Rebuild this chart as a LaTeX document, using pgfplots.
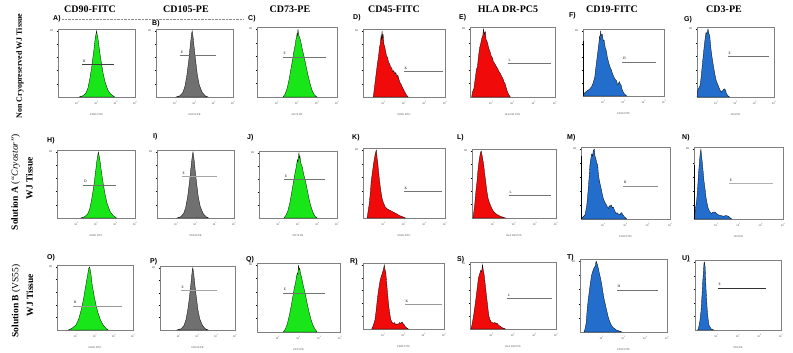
\documentclass[border=0pt]{standalone}
\usepackage{pgfplots}
\pgfplotsset{compat=1.18}
\usepackage{fontspec}
\setmainfont{Liberation Serif}
\newfontfamily\labfont{Liberation Sans}
\definecolor{fgreen}{RGB}{25,230,25}
\definecolor{fgray}{RGB}{112,112,112}
\definecolor{fred}{RGB}{240,10,10}
\definecolor{fblue}{RGB}{35,110,205}
\newcommand{\tinyf}{\labfont\fontsize{2.6}{3}\selectfont}
\pgfplotsset{
  fc/.style={scale only axis, anchor=north west, xmin=0, xmax=4, ymin=0, ymax=1.03,
    axis line style={black!50, line width=0.4pt},
    tick pos=left,
    tick align=outside, tick style={black, line width=0.25pt},
    major tick length=1.4pt, minor tick length=0.9pt,
    xtick={1,2,3,4}, xticklabels={10\textsuperscript{1},10\textsuperscript{2},10\textsuperscript{3},10\textsuperscript{4}},
    minor xtick={0.301,0.477,0.602,0.699,0.778,0.845,0.903,0.954,
      1.301,1.477,1.602,1.699,1.778,1.845,1.903,1.954,
      2.301,2.477,2.602,2.699,2.778,2.845,2.903,2.954,
      3.301,3.477,3.602,3.699,3.778,3.845,3.903,3.954},
    ytick={0.2,0.4,0.6,0.8,1}, yticklabels={,,,,88},
    tick label style={font=\tinyf, text=black!70}, label style={font=\tinyf, text=black!70},
    xticklabel style={yshift=0.6pt}, xlabel style={yshift=-2pt},
    clip=false},
  hist/.style={draw=black, line width=0.3pt, fill=#1},
}
\newcommand{\gate}[5][black!55]{\addplot[#1, line width=0.5pt] coordinates {(#2,#4) (#3,#4)};
  \node[font=\fontsize{3.5}{4}\selectfont, anchor=south west, inner sep=0.5pt, yshift=1.5pt] at (axis cs:#2,#4) {#5};}
\newcommand{\spike}[1]{\addplot[black, line width=0.6pt] coordinates {(0.02,0) (0.02,#1)};}
\newcommand{\plab}[3]{\node[font=\labfont\bfseries\fontsize{7}{8}\selectfont, anchor=west, inner sep=0pt] at (#1pt,-#2pt) {#3};}
\newcommand{\ctitle}[2]{\node[font=\bfseries\fontsize{10}{11}\selectfont, anchor=base] at (#1pt,-13pt) {#2};}
\begin{document}
\begin{tikzpicture}
\path[use as bounding box] (0,0) rectangle (793pt,-353pt);
% column titles
\ctitle{90}{CD90-FITC}
\ctitle{186}{CD105-PE}
\ctitle{290}{CD73-PE}
\ctitle{394}{CD45-FITC}
\ctitle{508}{HLA DR-PC5}
\ctitle{612}{CD19-FITC}
\ctitle{724}{CD3-PE}
% row labels
\node[rotate=90, font=\bfseries\fontsize{8}{9}\selectfont] at (20pt,-66pt) {Non Cryopreserved WJ Tissue};
\node[rotate=90, font=\fontsize{9.5}{11}\selectfont] at (15.5pt,-182pt) {\textbf{Solution A} (\textit{“Cryostor”})};
\node[rotate=90, font=\bfseries\fontsize{9.5}{11}\selectfont] at (29.5pt,-178pt) {WJ Tissue};
\node[rotate=90, font=\fontsize{9.5}{11}\selectfont] at (16pt,-301pt) {\textbf{Solution B} (VS55)};
\node[rotate=90, font=\bfseries\fontsize{9.5}{11}\selectfont] at (30pt,-295pt) {WJ Tissue};
\draw[black!45, densely dotted, line width=0.4pt] (62pt,-19pt) -- (243pt,-19pt);
% panel labels
\plab{53}{19}{A)} \plab{152}{24}{B)} \plab{248}{19}{C)} \plab{353}{18}{D)} \plab{459}{18}{E)} \plab{569}{16}{F)} \plab{684}{20}{G)}
\plab{47}{141}{H)} \plab{153}{137}{I)} \plab{247}{138}{J)} \plab{352}{138}{K)} \plab{457}{138}{L)} \plab{567}{138}{M)} \plab{682}{138}{N)}
\plab{47}{258}{O)} \plab{150}{262}{P)} \plab{246}{260}{Q)} \plab{350}{262}{R)} \plab{457}{260}{S)} \plab{567}{258}{T)} \plab{682}{259}{U)}

% ---------------- Row 1
\begin{axis}[fc, at={(58pt,-29pt)}, width=77pt, height=68pt, xlabel={CD90 FITC}]
\addplot[hist=fgreen] coordinates {(1.1,0) (1.3,0.02) (1.45,0.06) (1.55,0.13) (1.65,0.27) (1.75,0.45) (1.85,0.68) (1.93,0.88) (2.0,1.0) (2.07,0.9) (2.15,0.72) (2.25,0.52) (2.35,0.35) (2.45,0.22) (2.6,0.1) (2.75,0.04) (2.95,0)} \closedcycle;
\gate[black!75]{1.25}{2.9}{0.49}{D}
\end{axis}
\begin{axis}[fc, at={(156pt,-29pt)}, width=77pt, height=68pt, xlabel={CD105 PE}]
\addplot[hist=fgray] coordinates {(1.05,0) (1.25,0.02) (1.4,0.07) (1.5,0.16) (1.6,0.32) (1.7,0.55) (1.78,0.78) (1.85,0.96) (1.88,1.0) (1.93,0.9) (2.0,0.7) (2.08,0.5) (2.15,0.33) (2.25,0.18) (2.4,0.07) (2.55,0.02) (2.7,0)} \closedcycle;
\gate{1.25}{3.1}{0.63}{E}
\end{axis}
\begin{axis}[fc, at={(257pt,-27pt)}, width=80pt, height=70pt, xlabel={CD73 PE}]
\addplot[hist=fgreen] coordinates {(1.3,0) (1.4,0.04) (1.5,0.12) (1.6,0.25) (1.7,0.42) (1.78,0.55) (1.85,0.68) (1.9,0.75) (1.95,0.85) (1.98,0.88) (2.0,0.93) (2.02,0.9) (2.05,1.0) (2.07,0.94) (2.1,0.9) (2.15,0.86) (2.2,0.8) (2.28,0.68) (2.35,0.6) (2.45,0.46) (2.55,0.32) (2.65,0.2) (2.75,0.1) (2.85,0.04) (2.95,0.01) (3.0,0)} \closedcycle;
\gate{1.3}{3.45}{0.59}{E}
\end{axis}
\begin{axis}[fc, at={(363pt,-29pt)}, width=82pt, height=68pt, xlabel={CD45 FITC}]
\addplot[hist=fred] coordinates {(0.5,0) (0.55,0.12) (0.62,0.3) (0.7,0.5) (0.76,0.62) (0.8,0.75) (0.84,0.8) (0.88,0.92) (0.9,0.86) (0.93,1.0) (0.96,0.88) (0.98,0.95) (1.02,0.8) (1.06,0.76) (1.1,0.7) (1.15,0.62) (1.2,0.6) (1.25,0.52) (1.3,0.5) (1.35,0.45) (1.4,0.44) (1.45,0.38) (1.5,0.4) (1.55,0.35) (1.6,0.37) (1.65,0.31) (1.7,0.33) (1.75,0.27) (1.8,0.22) (1.85,0.2) (1.9,0.16) (1.95,0.13) (2.0,0.1) (2.05,0.07) (2.1,0.04) (2.15,0.02) (2.2,0)} \closedcycle;
\gate{2.0}{3.9}{0.39}{K}
\end{axis}
\begin{axis}[fc, at={(470pt,-27pt)}, width=85pt, height=70pt, xlabel={HLA DR PC5}]
\addplot[hist=fred] coordinates {(0.08,0) (0.12,0.08) (0.18,0.12) (0.25,0.28) (0.3,0.4) (0.35,0.45) (0.4,0.6) (0.45,0.72) (0.5,0.78) (0.55,0.86) (0.6,0.9) (0.64,1.0) (0.68,0.92) (0.72,0.96) (0.76,0.84) (0.8,0.82) (0.85,0.76) (0.9,0.7) (0.95,0.66) (1.0,0.6) (1.05,0.58) (1.1,0.52) (1.15,0.5) (1.2,0.47) (1.25,0.44) (1.3,0.42) (1.35,0.38) (1.4,0.36) (1.45,0.33) (1.5,0.3) (1.55,0.27) (1.6,0.22) (1.65,0.2) (1.7,0.14) (1.75,0.09) (1.8,0.05) (1.85,0.02) (1.9,0)} \closedcycle;
\gate{1.79}{3.8}{0.49}{L}
\end{axis}
\begin{axis}[fc, at={(583pt,-29pt)}, width=81pt, height=67pt, xlabel={CD19 FITC}]
\addplot[hist=fblue] coordinates {(0,0) (0.05,0.04) (0.2,0.08) (0.3,0.1) (0.42,0.14) (0.5,0.2) (0.58,0.29) (0.62,0.4) (0.66,0.5) (0.7,0.6) (0.74,0.7) (0.78,0.8) (0.82,0.92) (0.85,0.88) (0.87,1.0) (0.9,0.93) (0.95,0.95) (1.0,0.85) (1.04,0.86) (1.1,0.74) (1.15,0.7) (1.2,0.6) (1.28,0.5) (1.34,0.44) (1.4,0.4) (1.47,0.33) (1.53,0.29) (1.6,0.25) (1.64,0.24) (1.72,0.17) (1.76,0.2) (1.8,0.22) (1.84,0.18) (1.88,0.17) (1.93,0.1) (1.97,0.07) (2.05,0.03) (2.16,0)} \closedcycle;
\spike{0.85}
\gate{1.95}{3.6}{0.52}{D}
\end{axis}
\begin{axis}[fc, at={(697pt,-27pt)}, width=77pt, height=70pt, xlabel={CD3 PE}]
\addplot[hist=fblue] coordinates {(0,0) (0.04,0.1) (0.16,0.17) (0.22,0.3) (0.26,0.43) (0.32,0.6) (0.38,0.76) (0.43,0.88) (0.47,0.95) (0.52,0.93) (0.57,1.0) (0.62,0.93) (0.66,0.9) (0.7,0.78) (0.74,0.67) (0.8,0.55) (0.87,0.43) (0.93,0.33) (1.0,0.24) (1.07,0.19) (1.14,0.14) (1.2,0.1) (1.26,0.07) (1.32,0.09) (1.38,0.11) (1.43,0.12) (1.48,0.1) (1.53,0.05) (1.6,0.02) (1.69,0)} \closedcycle;
\gate{1.6}{3.75}{0.6}{E}
\end{axis}

% ---------------- Row 2
\begin{axis}[fc, at={(57pt,-150pt)}, width=78pt, height=68pt, xlabel={CD90 FITC}]
\addplot[hist=fgreen] coordinates {(1.22,0) (1.42,0.02) (1.57,0.06) (1.67,0.13) (1.77,0.27) (1.87,0.45) (1.97,0.68) (2.05,0.88) (2.12,1.0) (2.19,0.9) (2.27,0.72) (2.37,0.52) (2.47,0.35) (2.57,0.22) (2.72,0.1) (2.87,0.04) (3.05,0)} \closedcycle;
\gate{1.35}{3.0}{0.5}{D}
\end{axis}
\begin{axis}[fc, at={(157pt,-150pt)}, width=77pt, height=68pt, xlabel={CD105 PE}]
\addplot[hist=fgray] coordinates {(1.04,0) (1.24,0.02) (1.39,0.07) (1.49,0.16) (1.59,0.32) (1.69,0.55) (1.77,0.78) (1.84,0.96) (1.87,1.0) (1.92,0.9) (1.99,0.7) (2.07,0.5) (2.14,0.33) (2.24,0.18) (2.39,0.07) (2.54,0.02) (2.68,0)} \closedcycle;
\gate[black!35]{1.3}{3.1}{0.63}{E}
\end{axis}
\begin{axis}[fc, at={(259pt,-151pt)}, width=78pt, height=67pt, xlabel={CD73 PE}]
\addplot[hist=fgreen] coordinates {(1.28,0) (1.38,0.04) (1.48,0.11) (1.58,0.23) (1.68,0.4) (1.76,0.54) (1.83,0.66) (1.88,0.74) (1.93,0.82) (1.97,0.9) (2.0,0.86) (2.03,0.97) (2.05,1.0) (2.07,0.92) (2.1,0.95) (2.15,0.84) (2.22,0.78) (2.3,0.66) (2.38,0.57) (2.47,0.44) (2.56,0.3) (2.66,0.18) (2.76,0.09) (2.86,0.03) (2.97,0)} \closedcycle;
\gate{1.3}{3.4}{0.59}{E}
\end{axis}
\begin{axis}[fc, at={(363pt,-148pt)}, width=82pt, height=70pt, xlabel={CD45 FITC}]
\addplot[hist=fred] coordinates {(0.2,0) (0.3,0.2) (0.36,0.38) (0.4,0.54) (0.47,0.7) (0.53,0.83) (0.6,0.95) (0.65,1.0) (0.69,0.88) (0.73,0.78) (0.77,0.65) (0.81,0.54) (0.87,0.4) (0.93,0.29) (1.0,0.22) (1.09,0.16) (1.2,0.13) (1.34,0.11) (1.45,0.09) (1.59,0.07) (1.7,0.05) (1.83,0.03) (2.0,0.01) (2.07,0)} \closedcycle;
\gate{2.0}{3.86}{0.39}{K}
\end{axis}
\begin{axis}[fc, at={(472pt,-149pt)}, width=84pt, height=69pt, xlabel={HLA DR PC5}]
\addplot[hist=fred] coordinates {(0.05,0) (0.13,0.2) (0.18,0.38) (0.24,0.55) (0.28,0.7) (0.33,0.84) (0.37,0.92) (0.41,0.98) (0.44,1.0) (0.46,0.97) (0.5,0.9) (0.56,0.79) (0.6,0.67) (0.65,0.55) (0.7,0.42) (0.76,0.3) (0.84,0.22) (0.92,0.16) (1.0,0.11) (1.08,0.08) (1.2,0.05) (1.32,0.03) (1.48,0.01) (1.6,0)} \closedcycle;
\gate{1.76}{3.76}{0.34}{L}
\end{axis}
\begin{axis}[fc, at={(581pt,-147pt)}, width=89pt, height=72pt, xlabel={CD19 FITC}]
\addplot[hist=fblue] coordinates {(0,0) (0.03,0.01) (0.18,0.06) (0.25,0.17) (0.29,0.3) (0.33,0.45) (0.37,0.62) (0.4,0.77) (0.44,0.86) (0.48,0.93) (0.52,0.9) (0.55,0.98) (0.6,1.0) (0.63,0.9) (0.67,0.86) (0.71,0.8) (0.75,0.77) (0.78,0.65) (0.82,0.56) (0.88,0.47) (0.93,0.4) (0.98,0.32) (1.03,0.27) (1.1,0.22) (1.15,0.2) (1.2,0.16) (1.23,0.15) (1.27,0.19) (1.3,0.18) (1.36,0.2) (1.41,0.16) (1.45,0.17) (1.5,0.13) (1.57,0.08) (1.62,0.09) (1.68,0.07) (1.75,0.06) (1.8,0.09) (1.83,0.09) (1.88,0.06) (1.93,0.04) (2.05,0)} \closedcycle;
\spike{0.9}
\gate[black!45]{1.89}{3.46}{0.47}{D}
\end{axis}
\begin{axis}[fc, at={(694pt,-147pt)}, width=89pt, height=72pt, xlabel={CD3 PE}]
\addplot[hist=fblue] coordinates {(0,0) (0.04,0.08) (0.08,0.18) (0.12,0.27) (0.16,0.42) (0.19,0.59) (0.23,0.76) (0.27,0.91) (0.31,1.0) (0.34,0.9) (0.37,0.82) (0.41,0.68) (0.45,0.54) (0.5,0.42) (0.54,0.31) (0.59,0.22) (0.64,0.15) (0.7,0.11) (0.79,0.08) (0.86,0.1) (0.94,0.1) (1.0,0.08) (1.09,0.06) (1.2,0.05) (1.32,0.04) (1.45,0.05) (1.54,0.04) (1.62,0.02) (1.69,0)} \closedcycle;
\spike{0.77}
\gate[black!30]{1.58}{3.57}{0.51}{E}
\end{axis}

% ---------------- Row 3
\begin{axis}[fc, at={(57pt,-265pt)}, width=76pt, height=65pt, xlabel={CD90 FITC}]
\addplot[hist=fgreen] coordinates {(0.6,0) (0.8,0.03) (1.0,0.08) (1.15,0.18) (1.3,0.35) (1.4,0.5) (1.5,0.68) (1.6,0.85) (1.67,0.98) (1.72,1.0) (1.78,0.9) (1.85,0.72) (1.95,0.55) (2.05,0.4) (2.15,0.28) (2.3,0.15) (2.45,0.07) (2.6,0.02) (2.7,0)} \closedcycle;
\gate[black!40]{0.85}{3.4}{0.38}{D}
\end{axis}
\begin{axis}[fc, at={(160pt,-266pt)}, width=75pt, height=64pt, xlabel={CD105 PE}]
\addplot[hist=fgray] coordinates {(0.9,0) (1.12,0.02) (1.28,0.07) (1.38,0.16) (1.48,0.32) (1.58,0.55) (1.66,0.78) (1.72,0.96) (1.75,1.0) (1.8,0.9) (1.87,0.7) (1.95,0.5) (2.02,0.33) (2.12,0.18) (2.27,0.07) (2.42,0.02) (2.57,0)} \closedcycle;
\gate[black!35]{1.12}{3.04}{0.64}{E}
\end{axis}
\begin{axis}[fc, at={(257pt,-263pt)}, width=83pt, height=69pt, xlabel={CD73 PE}]
\addplot[hist=fgreen] coordinates {(1.26,0) (1.36,0.04) (1.46,0.12) (1.56,0.25) (1.66,0.41) (1.74,0.55) (1.8,0.66) (1.86,0.74) (1.9,0.82) (1.94,0.88) (1.97,0.86) (2.0,1.0) (2.03,0.93) (2.06,0.95) (2.1,0.87) (2.16,0.8) (2.24,0.68) (2.32,0.58) (2.4,0.45) (2.5,0.31) (2.6,0.19) (2.7,0.1) (2.8,0.04) (2.9,0)} \closedcycle;
\gate{1.26}{3.3}{0.58}{E}
\end{axis}
\begin{axis}[fc, at={(363pt,-263pt)}, width=81pt, height=66pt, xlabel={CD45 FITC}]
\addplot[hist=fred] coordinates {(0.43,0) (0.5,0.05) (0.59,0.14) (0.66,0.32) (0.72,0.5) (0.78,0.63) (0.84,0.75) (0.9,0.82) (0.95,0.87) (1.0,0.92) (1.05,1.0) (1.08,0.93) (1.12,0.9) (1.16,0.75) (1.2,0.6) (1.24,0.46) (1.28,0.34) (1.33,0.22) (1.38,0.14) (1.44,0.1) (1.5,0.09) (1.56,0.1) (1.61,0.07) (1.68,0.08) (1.74,0.07) (1.8,0.1) (1.87,0.09) (1.93,0.11) (1.99,0.08) (2.05,0.06) (2.1,0.03) (2.24,0)} \closedcycle;
\gate[black!40]{2.07}{3.9}{0.38}{K}
\end{axis}
\begin{axis}[fc, at={(470pt,-262pt)}, width=86pt, height=67pt, xlabel={HLA DR PC5}]
\addplot[hist=fred] coordinates {(0.05,0) (0.1,0.08) (0.16,0.19) (0.22,0.33) (0.28,0.48) (0.34,0.64) (0.39,0.78) (0.44,0.84) (0.5,0.9) (0.54,0.88) (0.58,0.99) (0.62,0.9) (0.66,0.83) (0.71,0.68) (0.76,0.53) (0.82,0.36) (0.87,0.21) (0.92,0.15) (0.98,0.11) (1.04,0.1) (1.1,0.09) (1.16,0.1) (1.21,0.08) (1.26,0.09) (1.32,0.06) (1.42,0.04) (1.5,0.02) (1.58,0.01) (1.65,0)} \closedcycle;
\gate{1.74}{3.8}{0.47}{L}
\end{axis}
\begin{axis}[fc, at={(580pt,-259pt)}, width=87pt, height=73pt, xlabel={CD19 FITC}]
\addplot[hist=fblue] coordinates {(0.18,0) (0.22,0.03) (0.28,0.12) (0.34,0.35) (0.38,0.46) (0.43,0.58) (0.48,0.7) (0.54,0.81) (0.6,0.87) (0.64,0.9) (0.7,0.93) (0.74,1.0) (0.77,0.98) (0.81,0.94) (0.85,0.89) (0.89,0.83) (0.95,0.75) (1.0,0.67) (1.05,0.57) (1.1,0.48) (1.17,0.38) (1.23,0.3) (1.29,0.22) (1.35,0.16) (1.42,0.11) (1.5,0.07) (1.58,0.05) (1.66,0.03) (1.84,0.01) (1.92,0)} \closedcycle;
\gate{1.7}{3.59}{0.59}{D}
\end{axis}
\begin{axis}[fc, at={(695pt,-260pt)}, width=86pt, height=70pt, xlabel={CD3 PE}]
\addplot[hist=fblue] coordinates {(0.12,0) (0.16,0.02) (0.23,0.14) (0.28,0.28) (0.31,0.43) (0.36,0.71) (0.4,0.9) (0.42,0.99) (0.44,1.0) (0.47,0.93) (0.51,0.62) (0.54,0.45) (0.57,0.29) (0.61,0.16) (0.65,0.07) (0.72,0.03) (0.78,0.01) (0.88,0)} \closedcycle;
\gate[black!80]{1.07}{3.3}{0.62}{E}
\end{axis}
\end{tikzpicture}
\end{document}
